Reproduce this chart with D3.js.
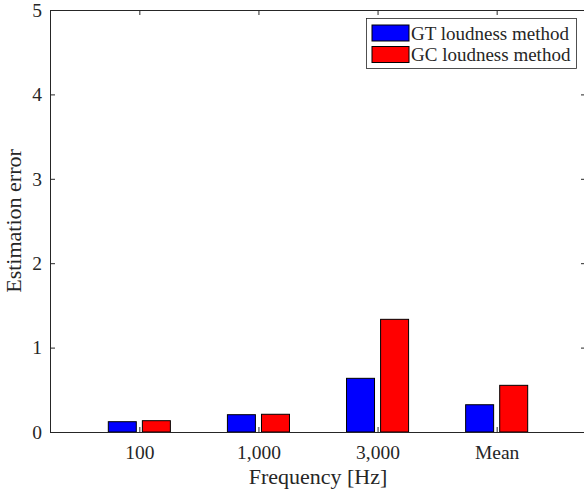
<!DOCTYPE html>
<html>
<head>
<meta charset="utf-8">
<script src="https://cdn.jsdelivr.net/npm/d3@7"></script>
<style>
  html, body { margin: 0; padding: 0; background: #fff; }
  svg { display: block; }
  text { font-family: "Liberation Serif", "Times New Roman", serif; fill: #262626; }
</style>
</head>
<body>
<svg id="chart" width="584" height="493"></svg>
<script>
const categories = ["100", "1,000", "3,000", "Mean"];
const gtValues = [0.122, 0.205, 0.636, 0.323];
const gcValues = [0.134, 0.210, 1.335, 0.553];
const seriesNames = ["GT loudness method", "GC loudness method"];
const seriesColors = ["#0000ff", "#ff0000"];
const yTicks = [0, 1, 2, 3, 4, 5];
const xLabel = "Frequency [Hz]";
const yLabel = "Estimation error";

(function () {
const svg = d3.select("#chart");
const mLeft = 50, mRight = 586, mTop = 10, mBottom = 432;
const axisColor = "#262626";

const x = d3.scaleLinear().domain([0.25, 4.75]).range([mLeft, mRight]);
const y = d3.scaleLinear().domain([0, 5]).range([mBottom, mTop]);

const barW = 0.235, offs = 0.143;
const series = [gtValues, gcValues];

// bars
series.forEach((vals, si) => {
  const dx = si === 0 ? -offs : offs;
  svg.append("g").selectAll("rect").data(vals).join("rect")
    .attr("x", (d, i) => x(i + 1 + dx - barW / 2))
    .attr("width", x(barW) - x(0))
    .attr("y", d => y(d))
    .attr("height", d => y(0) - y(d))
    .attr("fill", seriesColors[si])
    .attr("stroke", "#000")
    .attr("stroke-width", 1);
});

function styleAxis(g) {
  g.selectAll("path.domain").attr("stroke", axisColor).attr("stroke-width", 1);
  g.selectAll(".tick line").attr("stroke", axisColor).attr("stroke-width", 1);
  g.selectAll("text").style("font-family", '"Liberation Serif", "Times New Roman", serif')
    .attr("fill", axisColor);
}

// bottom axis
const xb = svg.append("g").attr("transform", `translate(0,${mBottom})`)
  .call(d3.axisBottom(x).tickValues([1, 2, 3, 4]).tickFormat(d => categories[d - 1])
    .tickSizeInner(-5).tickSizeOuter(0).tickPadding(13))
  .attr("font-size", 19.5);
styleAxis(xb);

// top axis
const xt = svg.append("g").attr("transform", `translate(0,${mTop})`)
  .call(d3.axisTop(x).tickValues([1, 2, 3, 4]).tickFormat("")
    .tickSizeInner(-5).tickSizeOuter(0));
styleAxis(xt);

// left axis
const yl = svg.append("g").attr("transform", `translate(${mLeft},0)`)
  .call(d3.axisLeft(y).tickValues(yTicks).tickFormat(d3.format("d"))
    .tickSizeInner(-5).tickSizeOuter(0).tickPadding(8))
  .attr("font-size", 19.5);
styleAxis(yl);

// right axis
const yr = svg.append("g").attr("transform", `translate(${mRight},0)`)
  .call(d3.axisRight(y).tickValues(yTicks).tickFormat("")
    .tickSizeInner(-5).tickSizeOuter(0));
styleAxis(yr);

// axis titles
svg.append("text").attr("x", (mLeft + mRight) / 2).attr("y", 484)
  .attr("text-anchor", "middle").attr("font-size", 22).text(xLabel);
svg.append("text").attr("transform", `translate(21,${(mTop + mBottom) / 2}) rotate(-90)`)
  .attr("text-anchor", "middle").attr("font-size", 22).text(yLabel);

// legend
const lg = svg.append("g");
lg.append("rect").attr("x", 366.5).attr("y", 18.5).attr("width", 210).attr("height", 50)
  .attr("fill", "#fff").attr("stroke", axisColor).attr("stroke-width", 0.8);
seriesNames.forEach((name, i) => {
  const cy = 33 + i * 21.5;
  lg.append("rect").attr("x", 372).attr("y", cy - 8).attr("width", 37).attr("height", 16)
    .attr("fill", seriesColors[i]).attr("stroke", "#000").attr("stroke-width", 1);
  lg.append("text").attr("x", 411).attr("y", cy + 6.5).attr("font-size", 19).text(name);
});
})();
</script>
</body>
</html>
